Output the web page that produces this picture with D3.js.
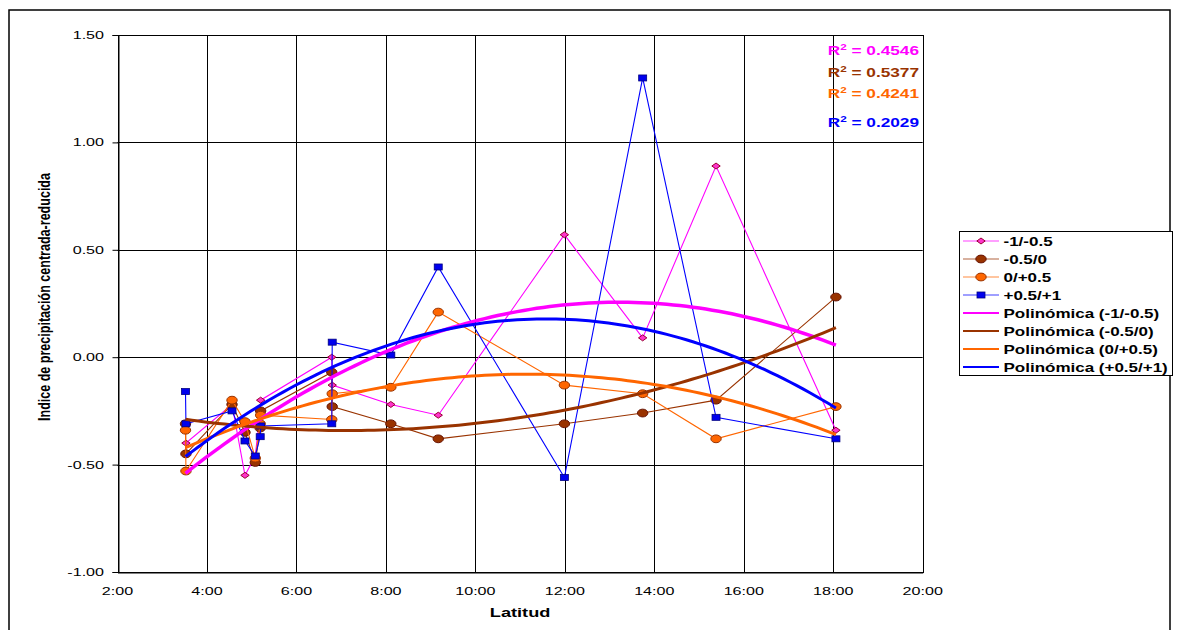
<!DOCTYPE html>
<html><head><meta charset="utf-8">
<script src="https://cdn.jsdelivr.net/npm/d3@7"></script>
<style>
html,body{margin:0;padding:0;background:#fff;}
text{font-family:"Liberation Sans",Arial,sans-serif;}
</style></head>
<body><svg id="c" width="1179" height="630"></svg>
<script>
// ---- data (latitude shown on an h:mm axis) ----
const latitudes = [3.52, 3.53, 4.56, 4.85, 5.08, 5.19, 5.20, 6.79, 6.80, 8.11, 9.17, 11.99, 13.74, 15.38, 18.06];
const serieMinus1 = [-0.45, -0.40, -0.22, -0.55, -0.46, -0.25, -0.20, 0.00, -0.13, -0.22, -0.27, 0.57, 0.09, 0.89, -0.34];
const serieMinus05 = [-0.31, -0.45, -0.22, -0.35, -0.49, -0.33, -0.25, -0.07, -0.23, -0.31, -0.38, -0.31, -0.26, -0.20, 0.28];
const seriePlus0 = [-0.34, -0.53, -0.20, -0.30, -0.47, -0.31, -0.27, -0.29, -0.17, -0.14, 0.21, -0.13, -0.17, -0.38, -0.23];
const seriePlus05 = [-0.16, -0.31, -0.25, -0.39, -0.46, -0.37, -0.32, -0.31, 0.07, 0.01, 0.42, -0.56, 1.30, -0.28, -0.38];
const seriesNames = ["-1/-0.5", "-0.5/0", "0/+0.5", "+0.5/+1"];
const trendNames = ["Polinómica (-1/-0.5)", "Polinómica (-0.5/0)", "Polinómica (0/+0.5)", "Polinómica (+0.5/+1)"];
const r2Labels = ["0.4546", "0.5377", "0.4241", "0.2029"];
const xTicks = [2, 4, 6, 8, 10, 12, 14, 16, 18, 20];
const yTicks = [-1.0, -0.5, 0.0, 0.5, 1.0, 1.5];

// ---- styles ----
const colors = ["#FF00FF", "#993300", "#FF6600", "#0000FF"];
const markFill = ["#FF33CC", "#993300", "#FF6600", "#0000EE"];
const markStroke = ["#990033", "#661100", "#993300", "#000080"];
const markType = ["diamond", "circle", "circle", "square"];
const SX = 1.4;
const FONT = '"Liberation Sans",Arial,sans-serif';
const fmtY = v => d3.format(".2f")(v).replace("\u2212", "-");

const svg = d3.select("#c");
const L = 117.5, R = 922.7, T = 35, B = 572;
const x = d3.scaleLinear().domain([2, 20]).range([L, R]);
const y = d3.scaleLinear().domain([-1, 1.5]).range([B, T]);

// outer frame
svg.append("rect").attr("x", 9).attr("y", 10).attr("width", 1161).attr("height", 640)
  .attr("fill", "none").attr("stroke", "#000").attr("stroke-width", 1.5);

function txt(g, px, py, s, anchor, size, weight, color, sx) {
  return g.append("text")
    .attr("transform", `translate(${px},${py}) scale(${sx || SX},1)`)
    .attr("text-anchor", anchor).attr("font-size", size).attr("font-weight", weight || "normal")
    .attr("fill", color || "#000").style("font-family", FONT).text(s);
}

// grid
const grid = svg.append("g");
grid.selectAll("line.v").data(xTicks).join("line")
  .attr("x1", d => Math.round(x(d)) + 0.5).attr("x2", d => Math.round(x(d)) + 0.5)
  .attr("y1", T).attr("y2", B).attr("stroke", "#000").attr("stroke-width", 1);
grid.selectAll("line.h").data(yTicks).join("line")
  .attr("y1", d => Math.round(y(d)) + 0.5).attr("y2", d => Math.round(y(d)) + 0.5)
  .attr("x1", L).attr("x2", R).attr("stroke", "#000").attr("stroke-width", 1);

// axes
const yAxis = d3.axisLeft(y).tickValues(yTicks).tickSize(6).tickFormat(fmtY);
const ya = svg.append("g").attr("transform", `translate(${Math.round(L)+0.5},0)`).call(yAxis);
ya.select(".domain").attr("stroke", "#000");
ya.selectAll(".tick line").attr("stroke", "#000");
ya.selectAll(".tick text").remove();
yTicks.forEach(v => txt(svg, 104, y(v) + 4, fmtY(v), "end", 11.5));

const xAxis = d3.axisBottom(x).tickValues(xTicks).tickSize(0).tickFormat(d => d + ":00");
const xa = svg.append("g").attr("transform", `translate(0,${Math.round(B)+0.5})`).call(xAxis);
xa.select(".domain").attr("stroke", "#000");
xa.selectAll(".tick text").remove();
xTicks.forEach(v => txt(svg, x(v), 594.5, v + ":00", "middle", 11.5));

txt(svg, (L + R) / 2, 616.5, "Latitud", "middle", 13, "bold");
svg.append("text").attr("transform", `translate(50,297) rotate(-90) scale(1,1.3)`)
  .attr("text-anchor", "middle").attr("font-size", 12.5).attr("font-weight", "bold")
  .attr("textLength", 248).attr("lengthAdjust", "spacingAndGlyphs")
  .style("font-family", FONT).text("Indice de precipitación centrada-reducida");

// plot border
svg.append("rect").attr("x", Math.round(L)+0.5).attr("y", T + 0.5).attr("width", Math.round(R) - Math.round(L))
  .attr("height", B - T).attr("fill", "none").attr("stroke", "#000");

// series
const allSeries = [serieMinus1, serieMinus05, seriePlus0, seriePlus05];
const line = d3.line().x(d => x(d[0])).y(d => y(d[1]));

function marker(g, type, cx, cy, i) {
  if (type === "circle") {
    g.append("ellipse").attr("cx", cx).attr("cy", cy).attr("rx", 5.2).attr("ry", 3.9)
      .attr("fill", markFill[i]).attr("stroke", markStroke[i]).attr("stroke-width", 1);
  } else if (type === "square") {
    g.append("rect").attr("x", cx - 4).attr("y", cy - 3).attr("width", 8).attr("height", 6)
      .attr("fill", markFill[i]).attr("stroke", markStroke[i]).attr("stroke-width", 0.8);
  } else {
    g.append("path").attr("d", `M${cx - 4.2},${cy}L${cx},${cy - 3}L${cx + 4.2},${cy}L${cx},${cy + 3}Z`)
      .attr("fill", markFill[i]).attr("stroke", markStroke[i]).attr("stroke-width", 1);
  }
}

const sg = svg.append("g");
allSeries.forEach((vals, i) => {
  const pts = latitudes.map((lt, k) => [lt, vals[k]]);
  sg.append("path").attr("d", line(pts)).attr("fill", "none").attr("stroke", colors[i]).attr("stroke-width", 1.1);
  pts.forEach(p => marker(sg, markType[i], x(p[0]), y(p[1]), i));
});

// polynomial (order 2) trendlines, least squares on the series data
function quadFit(xs, ys) {
  let S = [0, 0, 0, 0, 0], T3 = [0, 0, 0];
  xs.forEach((xv, k) => {
    let p = 1;
    for (let j = 0; j < 5; j++) { S[j] += p; if (j < 3) T3[j] += p * ys[k]; p *= xv; }
  });
  const A = [[S[0], S[1], S[2], T3[0]], [S[1], S[2], S[3], T3[1]], [S[2], S[3], S[4], T3[2]]];
  for (let c = 0; c < 3; c++) {
    for (let r = c + 1; r < 3; r++) {
      const f = A[r][c] / A[c][c];
      for (let k = c; k < 4; k++) A[r][k] -= f * A[c][k];
    }
  }
  const s = [0, 0, 0];
  for (let r = 2; r >= 0; r--) {
    let v = A[r][3];
    for (let k = r + 1; k < 3; k++) v -= A[r][k] * s[k];
    s[r] = v / A[r][r];
  }
  return s;
}
const tg = svg.append("g");
const xmin = d3.min(latitudes), xmax = d3.max(latitudes);
allSeries.forEach((vals, i) => {
  const c = quadFit(latitudes, vals);
  const xs = d3.range(0, 101).map(k => xmin + (xmax - xmin) * k / 100);
  const pts = xs.map(xv => [xv, c[0] + c[1] * xv + c[2] * xv * xv]);
  tg.append("path").attr("d", line(pts)).attr("fill", "none")
    .attr("stroke", colors[i]).attr("stroke-width", i === 0 ? 3.5 : 3);
});

// R² labels
const r2y = [55, 76.7, 98.3, 126.7];
r2Labels.forEach((v, i) => {
  const t = svg.append("text").attr("transform", `translate(919,${r2y[i]}) scale(1.38,1)`)
    .attr("text-anchor", "end").attr("font-size", 12.5).attr("font-weight", "bold")
    .attr("fill", colors[i]).style("font-family", FONT);
  t.append("tspan").text("R");
  t.append("tspan").attr("font-size", 8.5).attr("dy", -5).text("2");
  t.append("tspan").attr("dy", 5).text(" = " + v);
});

// legend
const lg = svg.append("g");
lg.append("rect").attr("x", 959.5).attr("y", 231.5).attr("width", 213).attr("height", 144)
  .attr("fill", "#fff").attr("stroke", "#000");
const rowY = [241, 259, 277, 295, 313, 331, 349, 367];
seriesNames.forEach((n, i) => {
  const yy = rowY[i];
  lg.append("line").attr("x1", 963).attr("x2", 999).attr("y1", yy).attr("y2", yy)
    .attr("stroke", colors[i]).attr("stroke-width", 1.2).attr("opacity", 0.75);
  marker(lg, markType[i], 981, yy, i);
  txt(lg, 1003.5, yy + 4.5, n, "start", 12.5, "bold", "#000", 1.36);
});
trendNames.forEach((n, i) => {
  const yy = rowY[i + 4];
  lg.append("line").attr("x1", 963).attr("x2", 999).attr("y1", yy).attr("y2", yy)
    .attr("stroke", colors[i]).attr("stroke-width", 2);
  txt(lg, 1003.5, yy + 4.5, n, "start", 12.5, "bold", "#000", 1.36);
});
</script></body></html>
